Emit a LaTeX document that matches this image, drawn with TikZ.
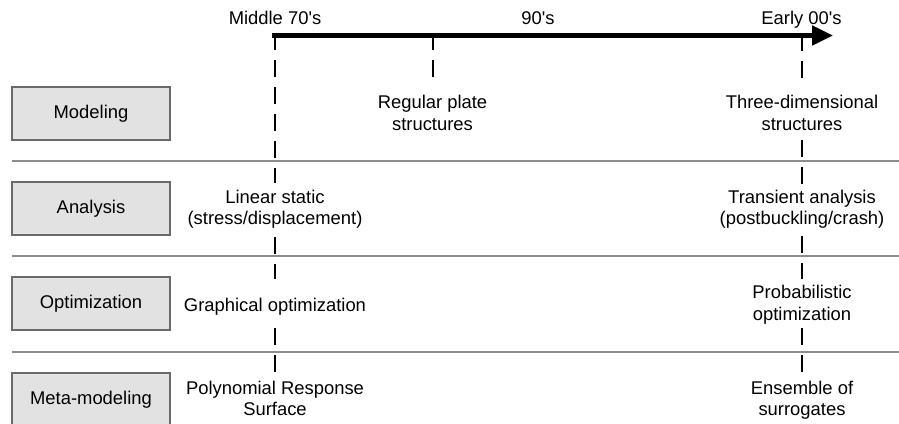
\documentclass[tikz,border=0pt]{standalone}
\usepackage{fontspec}
\setmainfont{Liberation Sans}[Ligatures=TeXOff]
\usetikzlibrary{arrows.meta}
\definecolor{boxfill}{HTML}{E2E2E2}
\definecolor{boxline}{HTML}{6A6A6A}
\definecolor{rowline}{HTML}{8C8C8C}
\tikzset{
  lbl/.style={anchor=base, align=center, inner sep=0pt, font=\fontsize{18.4}{21.5}\selectfont},
  rowbox/.style={draw=boxline, line width=1.3pt, fill=boxfill, minimum width=158pt, minimum height=53pt, inner sep=0pt, font=\fontsize{18.4}{21.5}\selectfont},
  dashline/.style={line width=2.6pt, dash pattern=on 17pt off 10pt},
  rowsep/.style={draw=rowline, line width=1.8pt},
  timeline/.style={line width=5pt, -{Triangle[length=21pt,width=19pt]}}
}
\begin{document}
\begin{tikzpicture}[x=1pt,y=-1pt]
\useasboundingbox (0,0) rectangle (899,423);
% row separators
\draw[rowsep] (12,161) -- (899,161);
\draw[rowsep] (12,256) -- (899,256);
\draw[rowsep] (12,352) -- (899,352);
% category boxes
\node[rowbox] (bmod) at (91,113.5) {Modeling};
\node[rowbox] (bana) at (91,208.5) {Analysis};
\node[rowbox] (bopt) at (91,303.5) {Optimization};
\node[rowbox] (bmet) at (91,399.5) {Meta-modeling};
% timeline
\coordinate (tstart) at (272,35.5);
\coordinate (tend) at (833,35.5);
\draw[timeline] (tstart) -- (tend);
\node[lbl] (t70) at (275,24) {Middle 70's};
\node[lbl] (t90) at (538,24) {90's};
\node[lbl] (t00) at (801.5,24) {Early 00's};
% entries (base = baseline of the last line)
\node[lbl] (reg) at (432.5,130) {Regular plate\\structures};
\node[lbl] (three) at (802,130) {Three-dimensional\\structures};
\node[lbl] (lin) at (275,224.5) {Linear static\\(stress/displacement)};
\node[lbl] (trans) at (802,224.5) {Transient analysis\\(postbuckling/crash)};
\node[lbl] (graph) at (275,311) {Graphical optimization};
\node[lbl] (prob) at (802,320) {Probabilistic\\optimization};
\node[lbl] (poly) at (275,415.5) {Polynomial Response\\Surface};
\node[lbl] (ens) at (802,415.5) {Ensemble of\\surrogates};
% dashed guides
\coordinate (L0) at (275,33);  \coordinate (L1) at (275,183);
\coordinate (L2) at (275,237); \coordinate (L3) at (275,279);
\coordinate (L4) at (275,328); \coordinate (L5) at (275,373);
\coordinate (M0) at (433,33);  \coordinate (M1) at (433,78);
\coordinate (R0) at (802,34);  \coordinate (R1) at (802,78);
\coordinate (R2) at (802,140); \coordinate (R3) at (802,184);
\coordinate (R4) at (802,236); \coordinate (R5) at (802,279);
\coordinate (R6) at (802,328); \coordinate (R7) at (802,373);
\draw[dashline] (L0) -- (L1);
\draw[dashline] (L2) -- (L3);
\draw[dashline] (L4) -- (L5);
\draw[dashline] (M0) -- (M1);
\draw[dashline] (R0) -- (R1);
\draw[dashline] (R2) -- (R3);
\draw[dashline] (R4) -- (R5);
\draw[dashline] (R6) -- (R7);
\end{tikzpicture}
\end{document}
